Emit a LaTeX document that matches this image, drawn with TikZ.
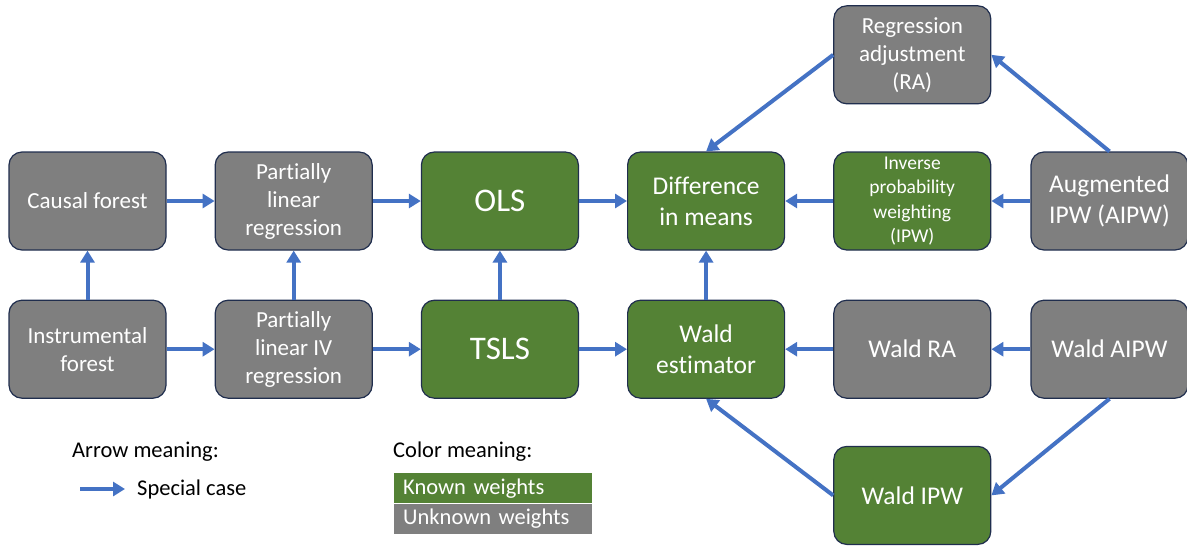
\documentclass[tikz,border=0pt]{standalone}
\usepackage{fontspec}
\setmainfont{Carlito}[Ligatures=CommonOff]
\usepackage{tikz}
\usetikzlibrary{arrows.meta,positioning,calc}
\definecolor{myleafgreen}{RGB}{84,130,53}
\definecolor{myslate}{RGB}{127,127,127}
\definecolor{mynavy}{RGB}{32,46,78}
\definecolor{myarrowblue}{RGB}{68,114,196}

\begin{document}
\begin{tikzpicture}[
  x=1pt, y=-1pt,
  node distance=49pt and 48pt,
  mybox/.style={
    draw=mynavy,
    line width=1.2pt,
    rounded corners=13pt,
    minimum width=157pt,
    minimum height=98pt,
    text=white,
    align=center,
    font=\fontsize{23}{28}\selectfont
  },
  known/.style={mybox, fill=myleafgreen},
  unknown/.style={mybox, fill=myslate},
  bigtext/.style={font=\fontsize{33}{40}\selectfont},
  midtext/.style={font=\fontsize{25.5}{31}\selectfont},
  smalltext/.style={font=\fontsize{19.5}{24.5}\selectfont},
  special/.style={
    draw=myarrowblue,
    line width=4pt,
    -{Triangle[length=12pt,width=14pt]}
  },
  legendtext/.style={font=\fontsize{22.5}{27}\selectfont, inner sep=2pt},
  legendbar/.style={
    anchor=north west,
    minimum width=198pt,
    minimum height=30pt,
    text width=180pt,
    align=left,
    inner xsep=9pt,
    inner ysep=0pt,
    text=white,
    font=\fontsize{22.5}{27}\selectfont
  }
]
\useasboundingbox (0,0) rectangle (1187,550);

% upper row
\node [unknown] (causal) at (87.5,201) {Causal forest};
\node [unknown, right=of causal] (plr) {Partially\\linear\\regression};
\node [known, bigtext, right=of plr] (ols) {OLS};
\node [known, midtext, right=of ols] (diff) {Difference\\in means};
\node [known, smalltext, right=of diff] (ipw) {Inverse\\probability\\weighting\\(IPW)};
\node [unknown, midtext, right=39pt of ipw] (aipw) {Augmented\\IPW (AIPW)};
\node [unknown, above=47pt of ipw] (ra) {Regression\\adjustment\\(RA)};

% lower row
\node [unknown, below=of causal] (instr) {Instrumental\\forest};
\node [unknown, below=of plr] (pliv) {Partially\\linear IV\\regression};
\node [known, bigtext, below=of ols] (tsls) {TSLS};
\node [known, midtext, below=of diff] (wald) {Wald\\estimator};
\node [unknown, midtext, below=of ipw] (waldra) {Wald RA};
\node [unknown, midtext, below=of aipw] (waldaipw) {Wald AIPW};
\node [known, midtext, below=47pt of waldra] (waldipw) {Wald IPW};

% special cases
\draw [special] (causal) -- (plr);
\draw [special] (plr) -- (ols);
\draw [special] (ols) -- (diff);
\draw [special] (ipw) -- (diff);
\draw [special] (aipw) -- (ipw);
\draw [special] (aipw.north) -- (ra.east);
\draw [special] (ra.west) -- (diff.north);
\draw [special] (instr) -- (causal);
\draw [special] (pliv) -- (plr);
\draw [special] (tsls) -- (ols);
\draw [special] (wald) -- (diff);
\draw [special] (instr) -- (pliv);
\draw [special] (pliv) -- (tsls);
\draw [special] (tsls) -- (wald);
\draw [special] (waldra) -- (wald);
\draw [special] (waldaipw) -- (waldra);
\draw [special] (waldaipw.south) -- (waldipw.east);
\draw [special] (waldipw.west) -- (wald.south);

% legend
\node [legendtext, anchor=west] (arrowhead) at (70,452) {Arrow meaning:};
\node [legendtext, anchor=west] (specialcase) at (135,489) {Special case};
\coordinate (legstart) at (80,489);
\draw [special, shorten >=10pt] (legstart) -- (specialcase.west);
\node [legendtext, anchor=west] (colorhead) at (391,452) {Color meaning:};
\node [legendbar, fill=myleafgreen] (knownbar) at (394,473) {Known weights};
\node [legendbar, fill=myslate] (unknownbar) at (knownbar.south west) {Unknown weights};
\end{tikzpicture}
\end{document}
